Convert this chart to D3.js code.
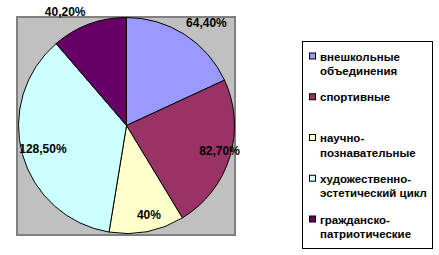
<!DOCTYPE html>
<html>
<head>
<meta charset="utf-8">
<script src="https://cdn.jsdelivr.net/npm/d3@7"></script>
<style>
  body { margin: 0; background: #fff; }
  text { font-family: "Liberation Sans", Arial, sans-serif; font-weight: bold; fill: #000; }
</style>
</head>
<body>
<div id="container"></div>
<script>
// chart data
const categories = ['внешкольные объединения', 'спортивные', 'научно-познавательные',
    'художественно-эстетический цикл', 'гражданско-патриотические']
const values = [64.4, 82.7, 40, 128.5, 40.2]
const valueLabels = ['64,40%', '82,70%', '40%', '128,50%', '40,20%']
const colors = ['#9999ff', '#993366', '#ffffcc', '#ccffff', '#660066']

const width = 439
const height = 255

const svg = d3.select('#container').append('svg')
    .attr('width', width).attr('height', height)

// plot area
const plot = { x: 17, y: 17, w: 218, h: 218 }
svg.append('rect')
    .attr('x', plot.x).attr('y', plot.y)
    .attr('width', plot.w).attr('height', plot.h)
    .attr('fill', '#c0c0c0')
    .attr('stroke', '#808080')
    .attr('stroke-width', 2)

const cx = 126.5, cy = 125.5, r = 108

const pie = d3.pie().sort(null).value(d => d)
const arcs = pie(values)
const arc = d3.arc().innerRadius(0).outerRadius(r)

const g = svg.append('g').attr('transform', `translate(${cx},${cy})`)

g.selectAll('path')
    .data(arcs)
    .enter()
    .append('path')
    .attr('d', arc)
    .attr('fill', (d, i) => colors[i])
    .attr('stroke', '#000')
    .attr('stroke-width', 1)

// labels: big slices inside, small top slices just outside the edge
const inside = d3.arc().innerRadius(92).outerRadius(92)
const outside = d3.arc().innerRadius(r + 10).outerRadius(r + 10)

g.selectAll('text.lbl')
    .data(arcs)
    .enter()
    .append('text')
    .attr('class', 'lbl')
    .style('font-size', '12px')
    .each(function (d, i) {
        const mid = (d.startAngle + d.endAngle) / 2
        const cosv = Math.cos(mid)
        const t = d3.select(this).text(valueLabels[i])
        if (cosv > 0.7) {
            const [x, y] = outside.centroid(d)
            t.attr('x', x + (Math.sin(mid) > 0 ? -4 : 0)).attr('y', y + 1)
                .attr('text-anchor', Math.sin(mid) > 0 ? 'start' : 'end')
        } else {
            const [x, y] = inside.centroid(d)
            t.attr('x', x + 5).attr('y', y + 3).attr('text-anchor', 'middle')
        }
    })

// legend
const legend = svg.append('g').attr('id', 'legend')
legend.append('rect')
    .attr('x', 302.5).attr('y', 41.5)
    .attr('width', 130).attr('height', 207)
    .attr('fill', '#fff')
    .attr('stroke', '#000')

const legendY = d3.scaleLinear().domain([0, categories.length - 1]).range([60.5, 223.5])

const splitName = (s) => {
    const sp = s.indexOf(' ')
    const hy = s.indexOf('-')
    let cut = -1
    if (hy >= 0 && (sp < 0 || hy < sp)) cut = hy + 1
    else if (sp >= 0) cut = sp
    if (cut < 0) return [s]
    return [s.slice(0, cut), s.slice(cut).trim()]
}

const items = legend.selectAll('g.item')
    .data(categories)
    .enter()
    .append('g')
    .attr('class', 'item')
    .attr('transform', (d, i) => `translate(0,${legendY(i)})`)

items.append('rect')
    .attr('x', 309.5).attr('y', -7.5)
    .attr('width', 6).attr('height', 6)
    .attr('fill', (d, i) => colors[i])
    .attr('stroke', '#000')
    .attr('stroke-width', 1)

items.append('text')
    .style('font-size', '11.5px')
    .selectAll('tspan')
    .data(d => splitName(d))
    .enter()
    .append('tspan')
    .attr('x', 320)
    .attr('y', (d, i) => i * 14.5)
    .text(d => d)
</script>
</body>
</html>
